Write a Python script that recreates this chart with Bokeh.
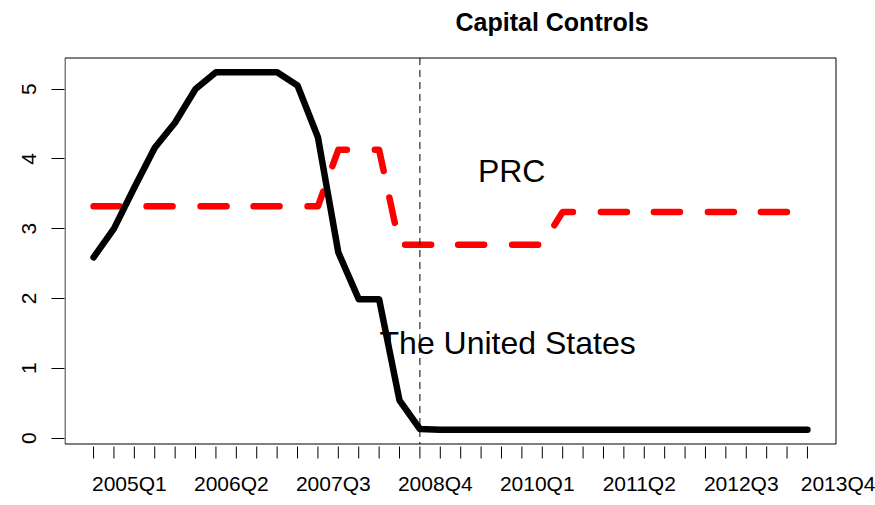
from bokeh.plotting import figure
from bokeh.models import Range1d, FixedTicker
from bokeh.core.properties import value
from bokeh.embed import file_html
from bokeh.resources import INLINE

# quarters (x categories), starting 2004Q3
quarters = ["2004Q3", "2004Q4",
            "2005Q1", "2005Q2", "2005Q3", "2005Q4",
            "2006Q1", "2006Q2", "2006Q3", "2006Q4",
            "2007Q1", "2007Q2", "2007Q3", "2007Q4",
            "2008Q1", "2008Q2", "2008Q3", "2008Q4",
            "2009Q1", "2009Q2", "2009Q3", "2009Q4",
            "2010Q1", "2010Q2", "2010Q3", "2010Q4",
            "2011Q1", "2011Q2", "2011Q3", "2011Q4",
            "2012Q1", "2012Q2", "2012Q3", "2012Q4",
            "2013Q1", "2013Q2", "2013Q3", "2013Q4"]

shown_labels = ["2005Q1", "2006Q2", "2007Q3", "2008Q4",
                "2010Q1", "2011Q2", "2012Q3", "2013Q4"]

us_rate = [2.59, 3.00, 3.59, 4.16, 4.52, 5.00, 5.24, 5.24, 5.24, 5.24,
           5.05, 4.31, 2.66, 1.99, 1.99, 0.54, 0.13, 0.12, 0.12, 0.12,
           0.12, 0.12, 0.12, 0.12, 0.12, 0.12, 0.12, 0.12, 0.12, 0.12,
           0.12, 0.12, 0.12, 0.12, 0.12, 0.12]

prc_rate = [3.32, 3.32, 3.32, 3.32, 3.32, 3.32, 3.32, 3.32, 3.32, 3.32,
            3.32, 3.32, 4.13, 4.13, 4.13, 2.77, 2.77, 2.77, 2.77, 2.77,
            2.77, 2.77, 2.77, 3.24, 3.24, 3.24, 3.24, 3.24, 3.24, 3.24,
            3.24, 3.24, 3.24, 3.24, 3.24, 3.24]

event_quarter = "2008Q3"
series_names = ["PRC", "The United States"]
title_text = "Capital Controls"
y_ticks = [0, 1, 2, 3, 4, 5]

x = list(range(len(us_rate)))
FONT = "Liberation Sans"

# ---- layout constants (pixels) ----
W, H = 875, 505
FL, FT, FB = 64, 40, 458          # frame left / top / bottom (frame right = W)
BOX_W, BOX_H = 771, 386           # plot box size
BOX_L, BOX_T = 64.5, 57.5         # plot box top-left corner

# R-style 4% range extension -> plot box in data units
xlo, xhi = min(x), max(x)
xpad = 0.04 * (xhi - xlo)
bx0, bx1 = xlo - xpad, xhi + xpad
allv = us_rate + prc_rate
ylo, yhi = min(allv), max(allv)
ypad = 0.04 * (yhi - ylo)
by0, by1 = ylo - ypad, yhi + ypad

kx = BOX_W / (bx1 - bx0)          # px per x unit
uy = (by1 - by0) / BOX_H          # y units per px
x_start = bx0 - (BOX_L - FL) / kx
x_end = x_start + (W - FL) / kx
y_end = by1 + (BOX_T - FT) * uy
y_start = y_end - (FB - FT) * uy


def y_at(py):
    return y_end - (py - FT) * uy


p = figure(width=W, height=H, output_backend="svg", toolbar_location=None,
           x_range=Range1d(x_start, x_end), y_range=Range1d(y_start, y_end),
           min_border_left=FL, min_border_right=0,
           min_border_top=FT, min_border_bottom=H - FB)
p.background_fill_color = "white"
p.border_fill_color = "white"
p.outline_line_color = None
p.xgrid.visible = False
p.ygrid.visible = False

p.title.text = title_text
p.title.text_font = FONT
p.title.text_font_size = "25px"
p.title.text_font_style = "bold"
p.title.text_color = "black"
p.title.align = "left"
p.title.offset = 391
p.title.standoff = 9

# plot box
p.line([bx0, bx1, bx1, bx0, bx0], [by0, by0, by1, by1, by0],
       line_color="black", line_width=1)

# x tick marks (one per quarter), drawn just under the box
n = len(x)
p.segment(x0=x, x1=x, y0=[y_at(446)] * n, y1=[y_at(FB + 1)] * n,
          line_color="black", line_width=1)

# x axis: labels only
xa = p.xaxis[0]
lab_pos = [quarters.index(l) - 5 / kx for l in shown_labels]
xa.ticker = FixedTicker(ticks=lab_pos)
xa.major_label_overrides = {pos: l for pos, l in zip(lab_pos, shown_labels)}
xa.axis_line_color = None
xa.major_tick_line_color = None
xa.minor_tick_line_color = None
xa.major_tick_in = 0
xa.major_tick_out = 0
xa.major_label_text_font = FONT
xa.major_label_text_font_size = "21px"
xa.major_label_text_color = "black"
xa.major_label_standoff = 13

# y axis
ya = p.yaxis[0]
ya.ticker = FixedTicker(ticks=y_ticks)
ya.axis_line_color = None
ya.major_tick_in = 0
ya.major_tick_out = 13
ya.minor_tick_line_color = None
ya.major_label_orientation = "vertical"
ya.major_label_text_font = FONT
ya.major_label_text_font_size = "21px"
ya.major_label_text_color = "black"
ya.major_label_standoff = 15

# lines
p.line(x, prc_rate, line_color="red", line_width=6.5, line_dash="26 27 26 28",
       line_cap="round", line_join="round")
p.line(x, us_rate, line_color="black", line_width=6.5,
       line_cap="round", line_join="round")

# event line (dashed, across the plot box)
ev = quarters.index(event_quarter)
p.segment(x0=[ev], x1=[ev], y0=[by1], y1=[by0], line_color="black",
          line_width=1, line_dash="7 5")

p.text(x=[20.5], y=[3.83], text=[series_names[0]], text_font=value(FONT),
       text_font_size="32px", text_align="center", text_baseline="middle",
       text_color="black")
p.text(x=[20.3], y=[1.355], text=[series_names[1]], text_font=value(FONT),
       text_font_size="32px", text_align="center", text_baseline="middle",
       text_color="black")

open("out.html", "w").write(file_html(p, INLINE))
